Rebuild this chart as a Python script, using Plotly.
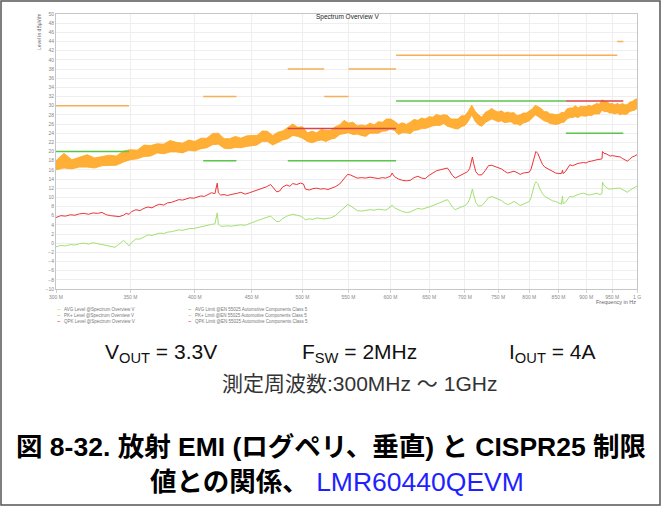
import math
import plotly.graph_objects as go

# ---- measurement data (frequencies in MHz, levels in dBµV/m) ----
PK_FREQ_MHZ = list(range(300, 1001, 5))
PK_HIGH = [
    18.0, 19.6, 18.2, 18.7, 19.3, 18.6, 18.9, 19.2, 19.0, 20.1,
    20.4, 20.3, 21.4, 21.3, 21.7, 21.6, 22.4, 22.0, 21.8, 22.5,
    22.2, 22.9, 22.9, 23.9, 24.0, 22.8, 22.8, 23.3, 22.9, 23.4,
    23.5, 23.5, 24.5, 24.4, 23.5, 24.2, 24.5, 25.3, 26.0, 25.3,
    25.4, 24.1, 24.4, 24.1, 24.8, 24.6, 24.6, 25.4, 25.8, 26.8,
    26.2, 26.4, 25.6, 25.8, 25.6, 26.2, 25.8, 26.5, 26.4, 27.1,
    27.1, 26.6, 25.9, 26.3, 25.9, 26.4, 27.0, 26.8, 27.3, 27.1,
    27.6, 27.5, 28.1, 27.8, 28.0, 27.9, 27.1, 27.1, 27.1, 27.8,
    27.8, 28.8, 30.1, 28.8, 28.0, 27.5, 28.5, 28.9, 29.4, 28.9,
    28.6, 28.9, 28.4, 28.6, 28.4, 28.5, 27.8, 28.0, 28.4, 28.4,
    28.9, 29.3, 30.1, 29.7, 29.4, 28.7, 28.7, 28.2, 28.2, 28.0,
    28.1, 28.5, 28.5, 29.3, 29.5, 29.5, 30.0, 29.5, 29.9, 29.8,
    29.8, 30.1, 29.9, 30.2, 30.5, 30.3, 31.3, 30.9, 30.9, 30.4,
    30.5, 30.2, 30.5, 30.2, 30.5, 30.2, 30.2, 30.8, 30.9, 31.3,
    31.5,
]
PK_LOW = [
    16.0, 16.4, 16.2, 16.6, 16.6, 16.4, 16.9, 16.9, 17.0, 17.7,
    18.2, 18.4, 18.9, 19.0, 19.7, 19.5, 19.9, 19.9, 19.7, 20.3,
    20.1, 20.6, 20.8, 21.5, 21.6, 20.7, 20.6, 20.9, 20.8, 21.1,
    21.3, 21.4, 22.2, 22.2, 21.4, 21.9, 22.5, 22.8, 23.5, 23.3,
    22.9, 22.2, 21.9, 22.3, 22.5, 22.2, 22.7, 22.9, 23.7, 23.9,
    24.1, 23.7, 23.8, 23.5, 23.3, 24.0, 24.0, 24.0, 24.4, 24.5,
    24.9, 24.6, 23.7, 24.1, 24.1, 23.9, 24.6, 24.7, 25.0, 25.0,
    25.3, 25.6, 25.7, 25.7, 26.1, 25.5, 25.3, 25.0, 24.9, 25.4,
    25.7, 26.6, 28.0, 26.6, 25.8, 25.5, 26.3, 26.7, 27.1, 26.8,
    26.5, 26.7, 26.3, 26.4, 26.5, 26.0, 26.0, 25.7, 26.2, 26.4,
    26.7, 27.3, 28.0, 27.6, 27.1, 26.7, 26.5, 26.1, 26.0, 25.9,
    26.0, 26.3, 26.4, 27.1, 27.4, 27.4, 27.6, 27.4, 27.8, 27.7,
    27.7, 27.9, 27.8, 28.2, 28.2, 28.2, 29.0, 28.7, 28.7, 28.4,
    28.4, 28.2, 28.4, 28.0, 28.2, 28.1, 28.2, 28.7, 28.9, 29.0,
    29.4,
]

SWEEP_FREQ_MHZ = [
    300, 303, 306, 309, 312, 315, 318, 321, 324, 327,
    330, 333, 336, 339, 342, 345, 347, 349, 351, 354,
    357, 360, 363, 366, 369, 372, 375, 378, 381, 384,
    387, 390, 393, 396, 399, 402, 405, 408, 411, 414,
    417, 419, 420, 422, 425, 428, 431, 434, 437, 440,
    444, 448, 452, 456, 460, 464, 468, 471, 474, 477,
    480, 484, 487, 490, 494, 498, 501, 503, 507, 511,
    515, 519, 523, 527, 530, 535, 540, 545, 549, 552,
    556, 560, 565, 570, 575, 580, 585, 590, 594, 597,
    600, 602, 605, 610, 615, 620, 625, 630, 635, 640,
    645, 650, 655, 660, 665, 670, 675, 678, 682, 686,
    690, 695, 700, 704, 707, 709, 711, 713, 716, 720,
    725, 730, 735, 740, 745, 750, 755, 760, 765, 770,
    775, 780, 785, 790, 795, 800, 803, 806, 809, 811,
    814, 818, 822, 826, 830, 835, 840, 845, 850, 855,
    857, 858, 862, 866, 870, 875, 880, 885, 890, 895,
    900, 905, 910, 915, 920, 926, 930, 931, 934, 938,
    942, 946, 950, 955, 960, 966, 970, 975, 980, 985,
    990, 995, 1000,
]
QPK_LEVEL = [
    5.6, 6.0, 5.9, 6.2, 6.1, 6.4, 6.5, 6.3, 6.6, 6.5,
    6.7, 6.2, 6.0, 5.9, 5.8, 6.1, 6.5, 6.3, 6.9, 7.3,
    7.1, 7.6, 7.9, 7.7, 8.2, 8.5, 8.3, 8.8, 8.9, 9.2,
    9.5, 9.4, 9.7, 9.9, 9.8, 10.1, 10.3, 10.2, 10.6, 11.0,
    10.8, 13.1, 11.0, 10.5, 10.6, 10.4, 10.6, 10.7, 10.9, 11.1,
    10.7, 11.0, 11.3, 11.7, 12.0, 12.3, 12.8, 12.1, 11.2, 11.4,
    12.3, 12.7, 12.4, 13.0, 12.8, 13.1, 12.9, 11.8, 11.6, 11.9,
    12.0, 11.8, 11.9, 11.7, 11.9, 12.3, 12.9, 14.0, 15.0, 14.9,
    14.5, 14.2, 14.3, 14.2, 14.4, 14.2, 14.1, 14.3, 14.2, 14.4,
    14.6, 15.3, 14.5, 14.0, 13.7, 13.6, 13.7, 14.3, 14.6, 14.2,
    14.1, 14.8, 15.4, 15.8, 16.0, 16.2, 16.4, 15.8, 14.8, 14.2,
    14.5, 14.8, 15.2, 15.6, 16.3, 17.6, 18.8, 17.3, 15.6, 14.9,
    14.9, 15.8, 16.9, 17.0, 16.7, 16.5, 16.2, 15.7, 15.3, 15.5,
    15.7, 15.4, 15.0, 15.3, 15.4, 15.5, 16.2, 17.8, 19.4, 20.0,
    19.6, 18.3, 17.2, 16.6, 16.3, 15.9, 15.5, 15.3, 15.2, 15.2,
    15.9, 15.2, 15.6, 16.5, 17.1, 16.9, 17.2, 17.4, 17.5, 17.6,
    17.5, 17.8, 17.9, 18.1, 18.2, 18.3, 18.4, 20.0, 19.6, 19.5,
    19.3, 19.0, 19.1, 19.0, 18.9, 18.8, 18.5, 18.1, 17.9, 18.3,
    18.8, 19.0, 19.3,
]
AVG_LEVEL = [
    -0.8, -0.5, -0.6, -0.3, -0.4, -0.1, 0.0, -0.2, 0.1, -0.1,
    -0.2, -0.4, -0.7, -0.9, -0.2, 0.6, 0.1, -0.6, 0.2, 0.9,
    0.9, 1.4, 1.8, 1.7, 2.0, 2.2, 2.1, 2.4, 2.5, 2.7,
    2.9, 2.8, 3.0, 3.2, 3.2, 3.4, 3.6, 3.7, 3.9, 4.1,
    4.2, 6.6, 4.2, 3.7, 3.7, 3.8, 3.7, 3.8, 3.9, 4.0,
    3.9, 4.3, 4.7, 5.0, 5.3, 5.6, 5.9, 5.3, 4.7, 4.8,
    5.4, 5.9, 6.1, 6.3, 6.1, 5.9, 5.5, 5.1, 5.3, 5.2,
    5.5, 5.4, 5.3, 5.4, 5.5, 6.0, 6.8, 7.7, 8.4, 8.2,
    7.7, 7.1, 7.0, 7.2, 7.3, 7.2, 7.4, 7.3, 7.2, 7.5,
    7.9, 8.3, 7.7, 7.3, 6.9, 6.7, 6.8, 7.2, 7.6, 7.4,
    7.6, 7.9, 8.2, 8.5, 8.8, 9.2, 9.5, 8.9, 7.9, 7.3,
    7.5, 7.9, 8.2, 8.7, 9.6, 10.8, 11.8, 10.5, 8.9, 8.1,
    8.2, 9.0, 9.9, 10.2, 9.9, 9.6, 9.3, 8.8, 8.4, 8.7,
    9.1, 8.7, 8.2, 8.5, 8.8, 9.1, 10.0, 11.6, 13.0, 13.4,
    13.0, 11.8, 10.8, 10.2, 9.9, 9.5, 9.2, 9.1, 8.8, 8.5,
    10.3, 8.6, 8.9, 9.6, 10.2, 10.1, 10.4, 10.6, 10.8, 10.9,
    10.7, 10.5, 10.6, 10.8, 10.9, 10.6, 10.8, 13.3, 12.6, 12.2,
    11.9, 11.8, 11.9, 12.0, 12.0, 12.0, 11.7, 11.3, 11.1, 11.5,
    11.9, 12.2, 12.5,
]

# ---- EN 55025 class 5 limit bands ----
PK_LIMIT_START = [300, 407, 485, 523, 550, 607, 960]
PK_LIMIT_STOP = [349, 436, 523, 550, 607, 960, 972]
PK_LIMIT_LEVEL = [30, 32, 38, 32, 38, 41, 44]
QPK_LIMIT_START = [485, 863]
QPK_LIMIT_STOP = [607, 972]
QPK_LIMIT_LEVEL = [25, 31]
AVG_LIMIT_START = [300, 407, 485, 607, 863]
AVG_LIMIT_STOP = [349, 436, 607, 863, 972]
AVG_LIMIT_LEVEL = [20, 18, 18, 31, 24]

# ---- axes ----
X_TICKS_MHZ = [300, 350, 400, 450, 500, 550, 600, 650, 700, 750, 800, 850, 900, 950, 1000]
X_TICK_TEXT = ["300 M", "350 M", "400 M", "450 M", "500 M", "550 M", "600 M", "650 M",
               "700 M", "750 M", "800 M", "850 M", "900 M", "950 M", "1 G"]
Y_TICKS = list(range(-10, 51, 2))

# ---- colours ----
C_PK = "#FFA620"
C_QPK = "#EE3238"
C_AVG = "#A3E070"
C_PK_LIM = "#F7AE55"
C_QPK_LIM = "#D9434B"
C_AVG_LIM = "#58C64A"

FIG_W, FIG_H = 662, 507
M_L, M_R, M_T, M_B = 56, 25, 14, 218
PLOT_W = FIG_W - M_L - M_R
PLOT_H = FIG_H - M_T - M_B


def px(x):
    """page pixel column -> paper x"""
    return (x - M_L) / PLOT_W


def py(y):
    """page pixel row -> paper y"""
    return (FIG_H - M_B - y) / PLOT_H


def segments(starts, stops, levels):
    xs, ys = [], []
    for a, b, v in zip(starts, stops, levels):
        xs += [a, b, None]
        ys += [v, v, None]
    return xs, ys


fig = go.Figure()

# PK+ level: dense noisy trace drawn as its min/max envelope
fig.add_trace(go.Scatter(x=PK_FREQ_MHZ, y=PK_LOW, mode="lines",
                         line=dict(color=C_PK, width=0.8), hoverinfo="skip"))
fig.add_trace(go.Scatter(x=PK_FREQ_MHZ, y=PK_HIGH, mode="lines", fill="tonexty",
                         fillcolor="rgba(255,166,32,0.9)", line=dict(color=C_PK, width=0.8),
                         hoverinfo="skip"))
fig.add_trace(go.Scatter(x=SWEEP_FREQ_MHZ, y=QPK_LEVEL, mode="lines",
                         line=dict(color=C_QPK, width=1)))
fig.add_trace(go.Scatter(x=SWEEP_FREQ_MHZ, y=AVG_LEVEL, mode="lines",
                         line=dict(color=C_AVG, width=1)))

for starts, stops, levels, col in [
    (PK_LIMIT_START, PK_LIMIT_STOP, PK_LIMIT_LEVEL, C_PK_LIM),
    (AVG_LIMIT_START, AVG_LIMIT_STOP, AVG_LIMIT_LEVEL, C_AVG_LIM),
    (QPK_LIMIT_START, QPK_LIMIT_STOP, QPK_LIMIT_LEVEL, C_QPK_LIM),
]:
    xs, ys = segments(starts, stops, levels)
    fig.add_trace(go.Scatter(x=xs, y=ys, mode="lines", line=dict(color=col, width=1.5)))

SANS = "Liberation Sans, Arial, Noto Sans CJK JP, sans-serif"

fig.update_layout(
    width=FIG_W, height=FIG_H,
    margin=dict(l=M_L, r=M_R, t=M_T, b=M_B),
    paper_bgcolor="white", plot_bgcolor="white",
    showlegend=False,
    font=dict(family=SANS, size=5, color="#888"),
)
fig.update_xaxes(
    type="log", range=[math.log10(300), 3],
    tickvals=X_TICKS_MHZ, ticktext=X_TICK_TEXT,
    showgrid=True, gridcolor="#eeeeee", gridwidth=1,
    showline=True, linecolor="#c6c6c6", mirror=True,
    ticks="outside", ticklen=3, tickcolor="#d0d0d0",
    tickfont=dict(size=5, color="#888"), zeroline=False,
)
fig.update_yaxes(
    range=[-10, 50], tickvals=Y_TICKS,
    showgrid=True, gridcolor="#eeeeee", gridwidth=1,
    showline=True, linecolor="#c6c6c6", mirror=True,
    ticks="", tickfont=dict(size=5, color="#888"), zeroline=False,
)

ann = []


def text(x, y, s, size, color="#000", xanchor="center", yanchor="middle", angle=0, family=SANS):
    ann.append(dict(x=px(x), y=py(y), xref="paper", yref="paper", text=s, showarrow=False,
                    xanchor=xanchor, yanchor=yanchor, textangle=angle, borderpad=0,
                    font=dict(size=size, color=color, family=family)))


# chart titles
text(348, 17, "Spectrum Overview V", 6.5, "#222")
text(39, 32, "Level in dBµV/m", 5, "#666", angle=-90)
text(637, 302, "Frequency in Hz", 5.5, "#666", xanchor="right")

# legend
LEGEND_LEFT = [("AVG Level @Spectrum Overview V", C_AVG),
               ("PK+ Level @Spectrum Overview V", C_PK),
               ("QPK Level @Spectrum Overview V", C_QPK)]
LEGEND_RIGHT = [("AVG Limit @EN 55025 Automotive Components Class 5", C_AVG_LIM),
                ("PK+ Limit @EN 55025 Automotive Components Class 5", C_PK_LIM),
                ("QPK Limit @EN 55025 Automotive Components Class 5", C_QPK_LIM)]
for i, (lab, col) in enumerate(LEGEND_LEFT):
    yy = 309 + 6 * i
    text(62, yy, "~", 6, col, xanchor="right")
    text(63, yy, lab, 4.5, "#777", xanchor="left")
for i, (lab, col) in enumerate(LEGEND_RIGHT):
    yy = 309 + 6 * i
    text(193, yy, "~", 6, col, xanchor="right")
    text(194, yy, lab, 4.5, "#777", xanchor="left")

# test conditions and caption
text(104, 353, "V<sub>OUT</sub> = 3.3V", 21, "#111", xanchor="left")
text(301, 353, "F<sub>SW</sub> = 2MHz", 21, "#111", xanchor="left")
text(508, 353, "I<sub>OUT</sub> = 4A", 21, "#111", xanchor="left")
text(221, 383, "測定周波数:300MHz ～ 1GHz", 21, "#333", xanchor="left")
text(331, 447, "<b>図 8-32. 放射 EMI (ログペリ、垂直) と CISPR25 制限</b>", 26.5, "#000")
text(337, 482, "<b>値との関係、</b> <span style='color:#1f1fff'>LMR60440QEVM</span>", 26.5, "#000")

fig.update_layout(annotations=ann)

# outer frame
fig.add_shape(type="rect", xref="paper", yref="paper",
              x0=px(1), x1=px(660), y0=py(505), y1=py(1),
              line=dict(color="#555", width=1.5), fillcolor="rgba(0,0,0,0)", layer="above")

fig.write_html("out.html")
